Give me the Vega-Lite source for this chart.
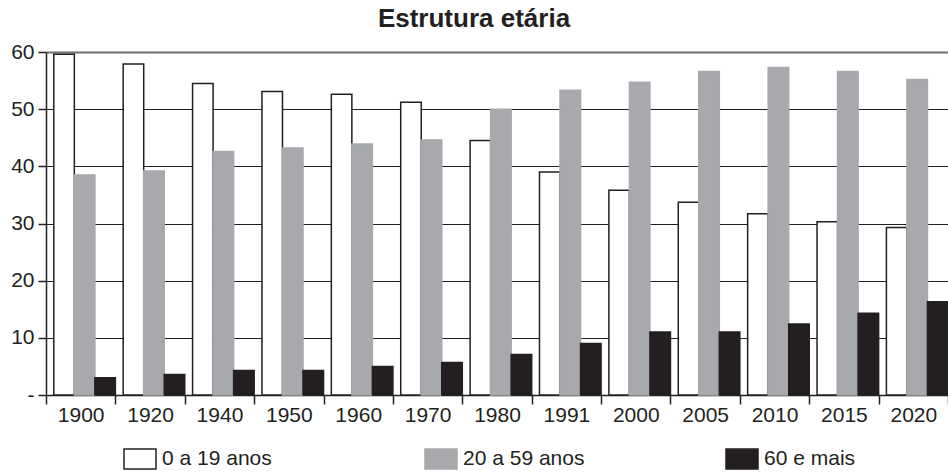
{
  "$schema": "https://vega.github.io/schema/vega-lite/v6.json",
  "width": 902,
  "height": 343,
  "autosize": "none",
  "padding": {"left": 46, "top": 52, "right": 0, "bottom": 79},
  "background": "white",
  "config": {
    "font": "Liberation Sans",
    "view": {"stroke": null}
  },
  "title": {
    "text": "Estrutura etária",
    "font": "Liberation Sans",
    "fontSize": 26,
    "fontWeight": "bold",
    "color": "#231f20",
    "anchor": "middle",
    "dx": -23,
    "offset": 9
  },
  "data": {
    "values": [
      {"ano": "1900", "grupo": "0 a 19 anos", "valor": 59.6},
      {"ano": "1900", "grupo": "20 a 59 anos", "valor": 38.5},
      {"ano": "1900", "grupo": "60 e mais", "valor": 3.0},
      {"ano": "1920", "grupo": "0 a 19 anos", "valor": 57.9},
      {"ano": "1920", "grupo": "20 a 59 anos", "valor": 39.2},
      {"ano": "1920", "grupo": "60 e mais", "valor": 3.6},
      {"ano": "1940", "grupo": "0 a 19 anos", "valor": 54.5},
      {"ano": "1940", "grupo": "20 a 59 anos", "valor": 42.6},
      {"ano": "1940", "grupo": "60 e mais", "valor": 4.3},
      {"ano": "1950", "grupo": "0 a 19 anos", "valor": 53.1},
      {"ano": "1950", "grupo": "20 a 59 anos", "valor": 43.2},
      {"ano": "1950", "grupo": "60 e mais", "valor": 4.3},
      {"ano": "1960", "grupo": "0 a 19 anos", "valor": 52.6},
      {"ano": "1960", "grupo": "20 a 59 anos", "valor": 43.9},
      {"ano": "1960", "grupo": "60 e mais", "valor": 5.0},
      {"ano": "1970", "grupo": "0 a 19 anos", "valor": 51.2},
      {"ano": "1970", "grupo": "20 a 59 anos", "valor": 44.6},
      {"ano": "1970", "grupo": "60 e mais", "valor": 5.7},
      {"ano": "1980", "grupo": "0 a 19 anos", "valor": 44.5},
      {"ano": "1980", "grupo": "20 a 59 anos", "valor": 50.0},
      {"ano": "1980", "grupo": "60 e mais", "valor": 7.1},
      {"ano": "1991", "grupo": "0 a 19 anos", "valor": 39.0},
      {"ano": "1991", "grupo": "20 a 59 anos", "valor": 53.3},
      {"ano": "1991", "grupo": "60 e mais", "valor": 9.0},
      {"ano": "2000", "grupo": "0 a 19 anos", "valor": 35.8},
      {"ano": "2000", "grupo": "20 a 59 anos", "valor": 54.7},
      {"ano": "2000", "grupo": "60 e mais", "valor": 11.0},
      {"ano": "2005", "grupo": "0 a 19 anos", "valor": 33.7},
      {"ano": "2005", "grupo": "20 a 59 anos", "valor": 56.6},
      {"ano": "2005", "grupo": "60 e mais", "valor": 11.0},
      {"ano": "2010", "grupo": "0 a 19 anos", "valor": 31.7},
      {"ano": "2010", "grupo": "20 a 59 anos", "valor": 57.3},
      {"ano": "2010", "grupo": "60 e mais", "valor": 12.4},
      {"ano": "2015", "grupo": "0 a 19 anos", "valor": 30.3},
      {"ano": "2015", "grupo": "20 a 59 anos", "valor": 56.6},
      {"ano": "2015", "grupo": "60 e mais", "valor": 14.3},
      {"ano": "2020", "grupo": "0 a 19 anos", "valor": 29.3},
      {"ano": "2020", "grupo": "20 a 59 anos", "valor": 55.2},
      {"ano": "2020", "grupo": "60 e mais", "valor": 16.3}
    ]
  },
  "mark": {"type": "bar", "strokeWidth": 1.5},
  "encoding": {
    "x": {
      "field": "ano",
      "type": "nominal",
      "sort": null,
      "title": null,
      "scale": {"paddingInner": 0, "paddingOuter": 0},
      "axis": {
        "labelAngle": 0,
        "labelFontSize": 21,
        "labelColor": "#231f20",
        "labelPadding": 0,
        "tickBand": "extent",
        "tickSize": 9,
        "tickColor": "#231f20",
        "tickWidth": 1.5,
        "domainColor": "#231f20",
        "domainWidth": 1.5,
        "grid": false
      }
    },
    "xOffset": {
      "field": "grupo",
      "type": "nominal",
      "sort": ["0 a 19 anos", "20 a 59 anos", "60 e mais"],
      "scale": {"paddingInner": 0, "paddingOuter": 0.19, "align": 1}
    },
    "y": {
      "field": "valor",
      "type": "quantitative",
      "title": null,
      "scale": {"domain": [0, 60], "nice": false},
      "axis": {
        "values": [0, 10, 20, 30, 40, 50, 60],
        "labelExpr": "datum.value == 0 ? '-' : datum.label",
        "labelFontSize": 21,
        "labelColor": "#231f20",
        "labelPadding": 4,
        "tickSize": 8,
        "tickColor": "#231f20",
        "tickWidth": 1.5,
        "domainColor": "#231f20",
        "domainWidth": 1.5,
        "grid": true,
        "gridColor": {"condition": {"test": "datum.value == 60", "value": "#6d6e71"}, "value": "#231f20"},
        "gridWidth": {"condition": {"test": "datum.value == 60", "value": 2}, "value": 1.2},
        "gridOpacity": 1
      }
    },
    "fill": {
      "field": "grupo",
      "type": "nominal",
      "title": null,
      "scale": {
        "domain": ["0 a 19 anos", "20 a 59 anos", "60 e mais"],
        "range": ["#ffffff", "#a7a9ac", "#231f20"]
      },
      "legend": {
        "orient": "none",
        "legendX": 77,
        "legendY": 390,
        "direction": "horizontal",
        "columns": 3,
        "gridAlign": "all",
        "columnPadding": 138,
        "symbolType": "M-1,-0.62H1V0.62H-1Z",
        "symbolSize": 1024,
        "symbolStrokeWidth": 1.5,
        "labelFontSize": 21,
        "labelColor": "#231f20",
        "labelOffset": 5,
        "labelLimit": 300
      }
    },
    "stroke": {
      "field": "grupo",
      "type": "nominal",
      "title": null,
      "scale": {
        "domain": ["0 a 19 anos", "20 a 59 anos", "60 e mais"],
        "range": ["#231f20", "#a7a9ac", "#231f20"]
      },
      "legend": {
        "orient": "none",
        "legendX": 77,
        "legendY": 390,
        "direction": "horizontal",
        "columns": 3,
        "gridAlign": "all",
        "columnPadding": 138,
        "symbolType": "M-1,-0.62H1V0.62H-1Z",
        "symbolSize": 1024,
        "symbolStrokeWidth": 1.5,
        "labelFontSize": 21,
        "labelColor": "#231f20",
        "labelOffset": 5,
        "labelLimit": 300
      }
    }
  }
}
